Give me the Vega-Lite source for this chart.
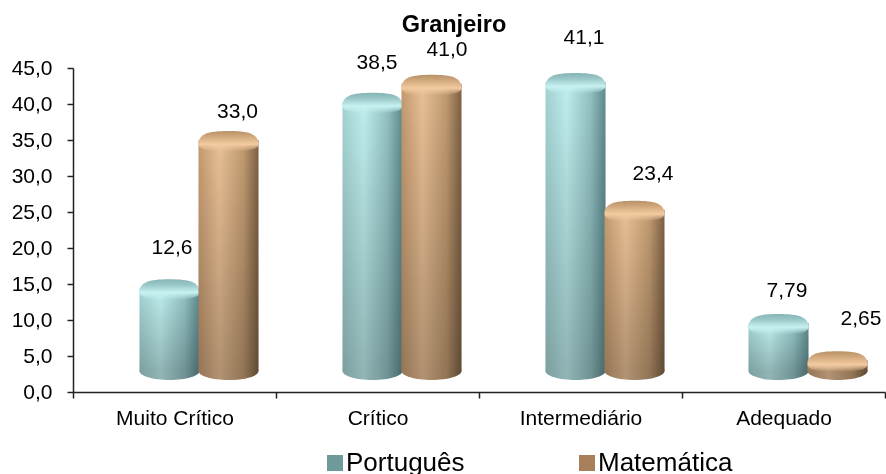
{"$schema":"https://vega.github.io/schema/vega-lite/v6.json","width":812,"height":324,"autosize":"none","padding":{"left":73,"top":68,"right":1,"bottom":82},"background":"white",
"title":{"text":"Granjeiro","font":"Liberation Sans","fontSize":23.5,"fontWeight":"bold","color":"black","anchor":"middle","dx":-25,"offset":-9},
"config":{"view":{"stroke":null},"font":"Liberation Sans","text":{"font":"Liberation Sans","fontSize":21,"color":"black"}},
"data":{"values":[
{"categoria":"Muito Crítico","serie":"Português","valor":"12,6","topo":14.4,"base":2.9},
{"categoria":"Muito Crítico","serie":"Matemática","valor":"33,0","topo":35.0,"base":2.9},
{"categoria":"Crítico","serie":"Português","valor":"38,5","topo":40.3,"base":2.9},
{"categoria":"Crítico","serie":"Matemática","valor":"41,0","topo":42.8,"base":2.9},
{"categoria":"Intermediário","serie":"Português","valor":"41,1","topo":43.05,"base":2.9},
{"categoria":"Intermediário","serie":"Matemática","valor":"23,4","topo":25.3,"base":2.9},
{"categoria":"Adequado","serie":"Português","valor":"7,79","topo":9.6,"base":2.9},
{"categoria":"Adequado","serie":"Matemática","valor":"2,65","topo":4.4,"base":2.9}
]},
"encoding":{
"x":{"field":"categoria","type":"nominal","title":null,"scale":{"domain":["Muito Crítico","Crítico","Intermediário","Adequado"],"paddingInner":0,"paddingOuter":0},"axis":{"labelAngle":0,"labelFont":"Liberation Sans","labelFontSize":21,"labelColor":"black","labelPadding":9,"tickBand":"extent","tickColor":"#222222","domainColor":"#222222","domainWidth":1.5,"tickWidth":1.5,"tickSize":6,"grid":false}},
"y":{"field":"topo","type":"quantitative","title":null,"scale":{"domain":[0,45],"nice":false},"axis":{"values":[0,5,10,15,20,25,30,35,40,45],"labelExpr":"replace(format(datum.value,'.1f'),'.',',')","labelFont":"Liberation Sans","labelFontSize":21,"labelColor":"black","labelPadding":15,"tickColor":"#222222","domainColor":"#222222","domainWidth":1.5,"tickWidth":1.5,"tickSize":6,"grid":false}}
},
"layer":[
{"mark":{"type":"point","filled":true,"opacity":0,"size":1},"encoding":{"fill":{"field":"serie","type":"nominal","scale":{"domain":["Português","Matemática"],"range":["#6f9a9c","#a87f58"]},"legend":{"orient":"none","legendX":249,"legendY":382,"direction":"horizontal","title":null,"labelFont":"Liberation Sans","labelFontSize":26,"labelColor":"black","symbolType":"square","symbolSize":256,"symbolStrokeWidth":0,"symbolOpacity":1,"columnPadding":109,"labelOffset":-2}}}},
{"transform":[{"filter":"datum.serie==='Português'"}],"mark":{"type":"point","shape":"M-1,0A1,0.3 0 1,1 1,0A1,0.3 0 1,1 -1,0Z","size":3600,"filled":true,"opacity":1,"xOffset":-5,"color":{"gradient":"linear","x1":0,"x2":1,"y1":0,"y2":0,"stops":[{"offset":0,"color":"#7ba0a0"},{"offset":0.35,"color":"#91b5b5"},{"offset":0.75,"color":"#709394"},{"offset":1,"color":"#48696c"}]}},"encoding":{"y":{"field":"base","type":"quantitative"}}},
{"transform":[{"filter":"datum.serie==='Português'"}],"mark":{"type":"bar","width":60,"xOffset":-5,"color":{"gradient":"linear","x1":0,"x2":1,"y1":0,"y2":0,"stops":[{"offset":0,"color":"#a3d2d2"},{"offset":0.35,"color":"#bfeeee"},{"offset":0.75,"color":"#93c2c4"},{"offset":1,"color":"#5f8a8e"}]}},"encoding":{"y2":{"field":"base"}}},
{"transform":[{"filter":"datum.serie==='Português'"}],"mark":{"type":"bar","width":60,"xOffset":-5,"blend":"multiply","color":{"gradient":"linear","x1":0,"x2":0,"y1":0,"y2":1,"stops":[{"offset":0,"color":"#ffffff"},{"offset":1,"color":"#c2c2c2"}]}},"encoding":{"y2":{"field":"base"}}},
{"transform":[{"filter":"datum.serie==='Português'"}],"mark":{"type":"point","shape":"M-1,0.15C-1,-0.2 -0.7,-0.3 0,-0.3C0.7,-0.3 1,-0.2 1,0.15C1,0.3 0.7,0.38 0,0.38C-0.7,0.38 -1,0.3 -1,0.15Z","size":3600,"filled":true,"opacity":1,"xOffset":-5,"color":{"gradient":"linear","x1":0,"x2":0,"y1":0,"y2":1,"stops":[{"offset":0,"color":"#86b3b3"},{"offset":0.3,"color":"#9ccaca"},{"offset":0.65,"color":"#c8f2f2"},{"offset":1,"color":"rgba(200,242,242,0)"}]}}},
{"transform":[{"filter":"datum.serie==='Matemática'"}],"mark":{"type":"point","shape":"M-1,0A1,0.3 0 1,1 1,0A1,0.3 0 1,1 -1,0Z","size":3600,"filled":true,"opacity":1,"xOffset":54,"color":{"gradient":"linear","x1":0,"x2":1,"y1":0,"y2":0,"stops":[{"offset":0,"color":"#957555"},{"offset":0.35,"color":"#b29272"},{"offset":0.75,"color":"#927555"},{"offset":1,"color":"#5f4934"}]}},"encoding":{"y":{"field":"base","type":"quantitative"}}},
{"transform":[{"filter":"datum.serie==='Matemática'"}],"mark":{"type":"bar","width":60,"xOffset":54,"color":{"gradient":"linear","x1":0,"x2":1,"y1":0,"y2":0,"stops":[{"offset":0,"color":"#c49a70"},{"offset":0.35,"color":"#eac095"},{"offset":0.75,"color":"#c09a70"},{"offset":1,"color":"#7d6044"}]}},"encoding":{"y2":{"field":"base"}}},
{"transform":[{"filter":"datum.serie==='Matemática'"}],"mark":{"type":"bar","width":60,"xOffset":54,"blend":"multiply","color":{"gradient":"linear","x1":0,"x2":0,"y1":0,"y2":1,"stops":[{"offset":0,"color":"#ffffff"},{"offset":1,"color":"#c2c2c2"}]}},"encoding":{"y2":{"field":"base"}}},
{"transform":[{"filter":"datum.serie==='Matemática'"}],"mark":{"type":"point","shape":"M-1,0.15C-1,-0.2 -0.7,-0.3 0,-0.3C0.7,-0.3 1,-0.2 1,0.15C1,0.3 0.7,0.38 0,0.38C-0.7,0.38 -1,0.3 -1,0.15Z","size":3600,"filled":true,"opacity":1,"xOffset":54,"color":{"gradient":"linear","x1":0,"x2":0,"y1":0,"y2":1,"stops":[{"offset":0,"color":"#b89268"},{"offset":0.3,"color":"#d4aa7e"},{"offset":0.65,"color":"#f2cba0"},{"offset":1,"color":"rgba(242,203,160,0)"}]}}},
{"transform":[{"filter":"datum.valor==='12,6'"}],"mark":{"type":"text","xOffset":-2.5,"yOffset":-40},"encoding":{"text":{"field":"valor"}}},
{"transform":[{"filter":"datum.valor==='33,0'"}],"mark":{"type":"text","xOffset":63,"yOffset":-28},"encoding":{"text":{"field":"valor"}}},
{"transform":[{"filter":"datum.valor==='38,5'"}],"mark":{"type":"text","xOffset":-0.5,"yOffset":-39},"encoding":{"text":{"field":"valor"}}},
{"transform":[{"filter":"datum.valor==='41,0'"}],"mark":{"type":"text","xOffset":69.5,"yOffset":-34},"encoding":{"text":{"field":"valor"}}},
{"transform":[{"filter":"datum.valor==='41,1'"}],"mark":{"type":"text","xOffset":3.5,"yOffset":-44},"encoding":{"text":{"field":"valor"}}},
{"transform":[{"filter":"datum.valor==='23,4'"}],"mark":{"type":"text","xOffset":72.5,"yOffset":-36},"encoding":{"text":{"field":"valor"}}},
{"transform":[{"filter":"datum.valor==='7,79'"}],"mark":{"type":"text","xOffset":3.5,"yOffset":-32},"encoding":{"text":{"field":"valor"}}},
{"transform":[{"filter":"datum.valor==='2,65'"}],"mark":{"type":"text","xOffset":77.5,"yOffset":-41},"encoding":{"text":{"field":"valor"}}}
]}
